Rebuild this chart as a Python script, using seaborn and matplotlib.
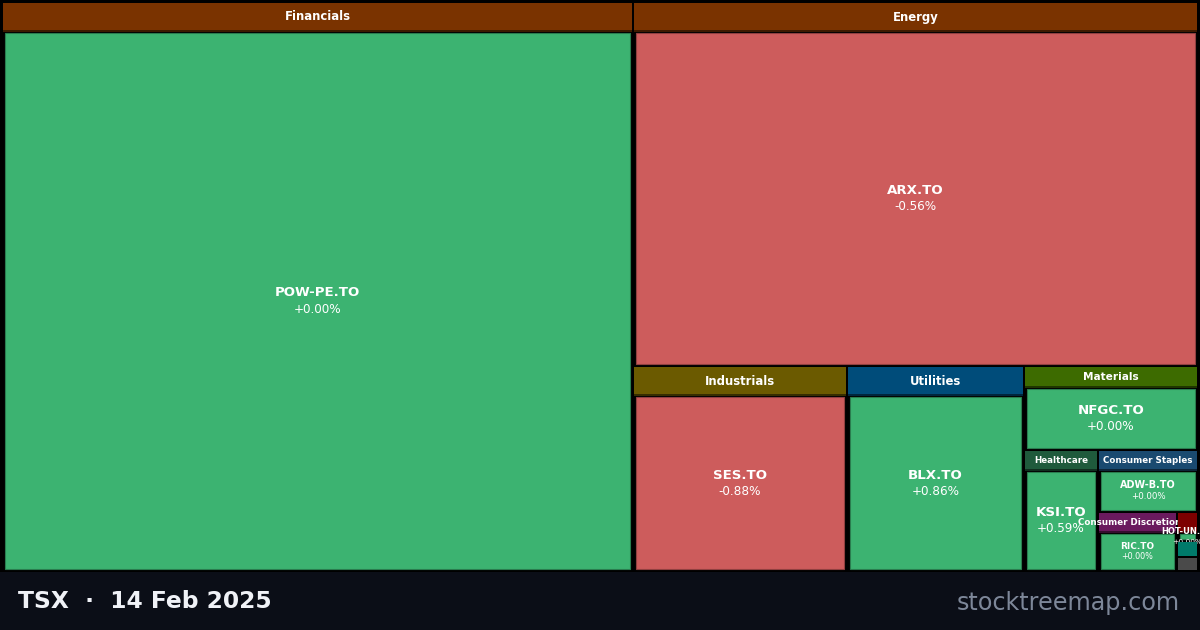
import numpy as np
import pandas as pd
import matplotlib
matplotlib.use("Agg")
import matplotlib.pyplot as plt
import seaborn as sns
from matplotlib.patches import Rectangle

# ---------------- data ----------------
sectors = ["Financials", "Energy", "Industrials", "Utilities", "Materials",
           "Healthcare", "Consumer Staples", "Consumer Discretionary",
           "Real Estate", "Communication Services", "Technology"]
tickers = ["POW-PE.TO", "ARX.TO", "SES.TO", "BLX.TO", "NFGC.TO",
           "KSI.TO", "ADW-B.TO", "RIC.TO", "HOT-UN.TO", "", ""]
market_caps = [359.0, 205.7, 43.87, 36.29, 14.62, 8.95, 6.20, 4.66, 0.61, 0.336, 0.294]
changes = [0.00, -0.56, -0.88, 0.86, 0.00, 0.59, 0.00, 0.00, 0.00, 0.00, 0.00]
sector_colors = {
    "Financials": "#7a3300", "Energy": "#7a3300", "Industrials": "#6b5a00",
    "Utilities": "#004c7a", "Materials": "#3d6b00", "Healthcare": "#1f5a3c",
    "Consumer Staples": "#1a4a70", "Consumer Discretionary": "#6a1a5e",
    "Real Estate": "#7d0000", "Communication Services": "#007a6a",
    "Technology": "#4a4a4a",
}
title = "TSX  \u00b7  14 Feb 2025"
site = "stocktreemap.com"

df = pd.DataFrame({"sector": sectors, "ticker": tickers,
                   "cap": market_caps, "chg": changes})
df = df.sort_values("cap", ascending=False).reset_index(drop=True)

# ---------------- d3-style binary treemap ----------------
def binary_layout(values, x0, y0, x1, y1):
    n = len(values)
    sums = np.concatenate([[0.0], np.cumsum(values)])
    rects = [None] * n

    def part(i, j, value, x0, y0, x1, y1):
        if i >= j - 1:
            rects[i] = (x0, y0, x1, y1)
            return
        off = sums[i]
        target = value / 2 + off
        k, hi = i + 1, j - 1
        while k < hi:
            mid = (k + hi) // 2
            if sums[mid] < target:
                k = mid + 1
            else:
                hi = mid
        if (target - sums[k - 1]) < (sums[k] - target) and i + 1 < k:
            k -= 1
        vl = sums[k] - off
        vr = value - vl
        if (x1 - x0) > (y1 - y0):
            xk = (x0 * vr + x1 * vl) / value
            part(i, k, vl, x0, y0, xk, y1)
            part(k, j, vr, xk, y0, x1, y1)
        else:
            yk = (y0 * vr + y1 * vl) / value
            part(i, k, vl, x0, y0, x1, yk)
            part(k, j, vr, x0, yk, x1, y1)

    part(0, n, sums[n], x0, y0, x1, y1)
    return rects

W, H = 1200, 630
rects = binary_layout(df["cap"].values, 2, 2, W - 2, 571)

sns.set_theme(style="white")
fig = plt.figure(figsize=(12, 6.3), dpi=100)
ax = fig.add_axes([0, 0, 1, 1])
ax.set_xlim(0, W)
ax.set_ylim(H, 0)
ax.axis("off")
fig.patch.set_facecolor("#000000")

# footer
ax.add_patch(Rectangle((0, 572), W, H - 572, facecolor="#0b0e17", edgecolor="none", zorder=0))

pos_col = "#3cb371"
neg_col = "#cd5c5c"

def darker(c, f=0.55):
    r, g, b = matplotlib.colors.to_rgb(c)
    return (r * f, g * f, b * f)

z = 10
for idx, row in df.iterrows():
    x0, y0, x1, y1 = rects[idx]
    x0 += 1; y0 += 1; x1 -= 1; y1 -= 1
    w, h = x1 - x0, y1 - y0
    scol = sector_colors[row["sector"]]
    if h < 24:
        ax.add_patch(Rectangle((x0, y0), w, h, facecolor=scol, edgecolor="none", zorder=z))
        z += 2
        continue
    if min(w, h) >= 150:
        hh, hfs = 27, 8.4
    elif w * h >= 10000:
        hh, hfs = 19, 7.6
    else:
        hh, hfs = 18, 6.3
    ax.add_patch(Rectangle((x0, y0), w, hh, facecolor=scol, edgecolor="none", zorder=z))
    ax.add_patch(Rectangle((x0, y0 + hh), w, 2, facecolor=darker(scol, 0.5), edgecolor="none", zorder=z))
    if w >= 40:
        ax.text((x0 + x1) / 2, y0 + hh / 2 + 0.5, row["sector"], color="white",
                fontsize=hfs, fontweight="bold", ha="center", va="center", zorder=z + 1)
    # stock cell
    cx0, cy0, cx1, cy1 = x0 + 2, y0 + hh + 3, x1 - 2, y1 - 1
    cw, ch = cx1 - cx0, cy1 - cy0
    ccol = pos_col if row["chg"] >= 0 else neg_col
    ax.add_patch(Rectangle((cx0, cy0), cw, ch, facecolor=ccol,
                           edgecolor=darker(ccol, 0.7), linewidth=0.8, zorder=z))
    if row["ticker"]:
        fs = float(np.clip(min(cw / 6.5, ch / 5.5), 6.0, 9.6))
        em = fs * 100 / 72
        cx, cy = (cx0 + cx1) / 2, (cy0 + cy1) / 2
        ax.text(cx, cy - 0.6 * em, row["ticker"], color="white", fontsize=fs,
                fontweight="bold", ha="center", va="center", zorder=z + 1)
        ax.text(cx, cy + 0.62 * em, f"{row['chg']:+.2f}%", color="white",
                fontsize=fs * 0.9, ha="center", va="center", zorder=z + 1)
    z += 2

ax.text(18, 602, title, color="#f0f2f7", fontsize=16.8, fontweight="bold",
        ha="left", va="center", zorder=50)
ax.text(1180, 603, site, color="#7d8799", fontsize=17.2,
        ha="right", va="center", zorder=50)

fig.savefig("out.png", dpi=100, facecolor=fig.get_facecolor())
